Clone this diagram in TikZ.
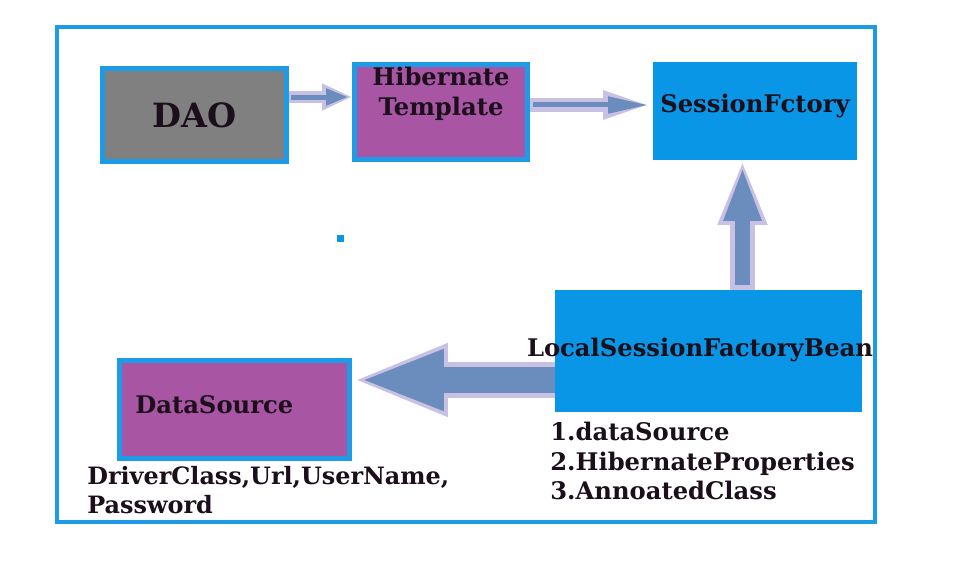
\documentclass[tikz,border=0pt]{standalone}
\usepackage{fontspec}
\setmainfont{DejaVu Serif}
\usepackage{tikz}
\usetikzlibrary{
    arrows.meta,
    positioning,
    calc
}
\definecolor{frameblue}{HTML}{1E9BE6}
\definecolor{boxblue}{HTML}{0A96E6}
\definecolor{boxpurple}{HTML}{A855A3}
\definecolor{boxgray}{HTML}{808080}
\definecolor{arrowcore}{HTML}{6A8DBE}
\definecolor{arrowrim}{HTML}{C8C1E3}
\definecolor{textdark}{HTML}{1A0F1A}
\tikzstyle{box} = [
    rectangle,
    draw=frameblue,
    line width=0.1cm,
    inner sep=0pt,
    text=textdark,
    font=\bfseries\fontsize{13.8}{17}\selectfont
]
\tikzstyle{plain} = [
    inner sep=0pt,
    text=textdark,
    align=left,
    font=\bfseries\fontsize{13.8}{16.8}\selectfont
]
\tikzstyle{rim} = [
    draw=arrowrim,
    line cap=butt
]
\tikzstyle{core} = [
    draw=arrowcore,
    line cap=butt
]

\begin{document}
\begin{tikzpicture}[x=0.02cm, y=-0.02cm]
    \useasboundingbox (0,0) rectangle (953,564);
    % outer frame
    \draw[frameblue, line width=0.08cm] (57,27) rectangle (875,522);

    % DAO
    \node[box, fill=boxgray, minimum width=3.68cm, minimum height=1.86cm,
          font=\bfseries\fontsize{19}{22}\selectfont] (dao) at (194.5,115) {DAO};

    % HibernateTemplate
    \node[box, fill=boxpurple, minimum width=3.46cm, minimum height=1.9cm] (tmpl) at (441,112) {};
    \node[plain, align=center, anchor=north, font=\bfseries\fontsize{13.8}{17}\selectfont]
        (tmpltext) at ([yshift=-0.1cm]tmpl.north) {Hibernate\\Template};

    % SessionFactory
    \node[box, fill=boxblue, draw=boxblue, line width=0pt, minimum width=4.08cm,
          minimum height=1.96cm, text depth=0.3cm] (sf) at (755,111) {SessionFctory};

    % LocalSessionFactoryBean
    \node[box, fill=boxblue, draw=boxblue, line width=0pt, minimum width=6.14cm,
          minimum height=2.44cm] (lsfb) at (708.5,351) {};
    \node[plain] (lsfbtext) at (700,350) {LocalSessionFactoryBean};
    \node[plain, anchor=north west] (props) at (550,422) {
        1.dataSource\\
        2.HibernateProperties\\
        3.AnnoatedClass
    };

    % DataSource
    \node[box, fill=boxpurple, minimum width=4.6cm, minimum height=1.96cm] (ds) at (234.5,409.5) {};
    \node[plain, anchor=west] (dstext) at (135,405) {DataSource};
    \node[plain, anchor=north west, font=\bfseries\fontsize{13.6}{16.5}\selectfont]
        (dsprops) at (87,466) {
        DriverClass,Url,UserName,\\
        Password
    };

    % stray dot
    \fill[boxblue] (337,235) rectangle (344,242);

    % Arrows
    \draw[rim, line width=0.24cm, -{Triangle[length=0.6cm, width=0.5cm]}]
        ([yshift=0.36cm]dao.east) -- ([yshift=0.36cm]dao.east -| tmpl.west);
    \draw[core, line width=0.1cm, -{Triangle[length=0.44cm, width=0.32cm]}, shorten >=0.08cm]
        ([yshift=0.36cm, xshift=0.04cm]dao.east) -- ([yshift=0.36cm]dao.east -| tmpl.west);

    \draw[rim, line width=0.28cm, -{Triangle[length=1.0cm, width=0.5cm]}]
        ([yshift=0.14cm]tmpl.east) -- ([yshift=0.14cm]tmpl.east -| sf.west);
    \draw[core, line width=0.1cm, -{Triangle[length=0.8cm, width=0.32cm]}, shorten >=0.1cm]
        ([yshift=0.14cm, xshift=0.06cm]tmpl.east) -- ([yshift=0.14cm]tmpl.east -| sf.west);

    \draw[rim, line width=0.5cm, -{Triangle[length=1.3cm, width=0.9cm]}]
        ([xshift=0.68cm]lsfb.north) -- ([xshift=0.68cm]lsfb.north |- sf.south);
    \draw[core, line width=0.3cm, -{Triangle[length=1.1cm, width=0.68cm]}, shorten >=0.12cm]
        ([xshift=0.68cm, yshift=0.1cm]lsfb.north) -- ([xshift=0.68cm]lsfb.north |- sf.south);

    \draw[rim, line width=0.72cm, -{Triangle[length=1.92cm, width=1.32cm]}]
        ([yshift=-0.58cm]lsfb.west) -- ([yshift=-0.58cm]lsfb.west -| ds.east);
    \draw[core, line width=0.52cm, -{Triangle[length=1.7cm, width=1.1cm]}, shorten >=0.14cm]
        ([yshift=-0.58cm]lsfb.west) -- ([yshift=-0.58cm]lsfb.west -| ds.east);
\end{tikzpicture}
\end{document}
